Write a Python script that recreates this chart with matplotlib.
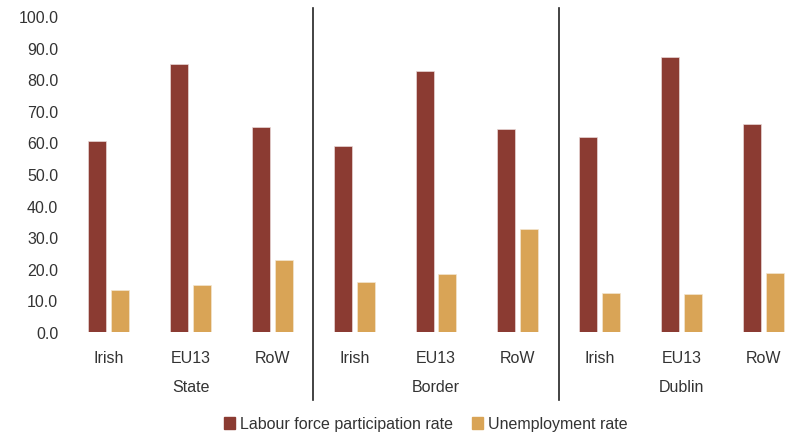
import numpy as np
import matplotlib.pyplot as plt
from matplotlib.patches import Patch

plt.rcParams['font.family'] = ['Liberation Sans', 'DejaVu Sans']

regions = ["State", "Border", "Dublin"]
groups = ["Irish", "EU13", "RoW"]
labour = [60.3, 84.8, 64.9, 58.9, 82.6, 64.2, 61.7, 87.0, 65.8]
unemp = [13.4, 14.9, 22.9, 15.8, 18.5, 32.6, 12.3, 12.0, 18.8]

c_lab = '#8B3B32'
c_une = '#D9A456'
txt = '#333333'
fs = 11.5

fig = plt.figure(figsize=(8.04, 4.35), dpi=100)
ax = fig.add_axes([68/804, 102/435, 736/804, 316/435])

x = np.arange(len(labour))
w = 0.22
off = 0.14
ax.bar(x - off, labour, w, color=c_lab, edgecolor='#e8d8d6', linewidth=0.5)
ax.bar(x + off, unemp, w, color=c_une, edgecolor='#f3e6d0', linewidth=0.5)

ax.set_xlim(-0.5, 8.5)
ax.set_ylim(0, 100)
ax.set_yticks(np.arange(0, 101, 10))
ax.set_yticklabels([f"{v:.1f}" for v in np.arange(0, 101, 10)], fontsize=fs, color=txt)
ax.set_xticks(x)
ax.set_xticklabels(groups * 3, fontsize=fs, color=txt)
ax.tick_params(axis='x', length=0, pad=13)
ax.tick_params(axis='y', length=0, pad=7)
for s in ax.spines.values():
    s.set_visible(False)

# region names and separators
for i, r in enumerate(regions):
    ax.text(3 * i + 1, -17.4, r, ha='center', va='center', fontsize=fs, color=txt)
for b in [2.5, 5.5]:
    ax.plot([b, b], [-21.5, 102.5], color='#222222', linewidth=1.2, clip_on=False)

handles = [Patch(color=c_lab, label='Labour force participation rate'),
           Patch(color=c_une, label='Unemployment rate')]
fig.legend(handles=handles, loc='center', bbox_to_anchor=(426/804, 1 - 425/435),
           ncol=2, frameon=False, fontsize=fs, handlelength=0.7, handleheight=0.7,
           handletextpad=0.3, columnspacing=1.2, labelcolor=txt)

fig.savefig("out.png", dpi=100)
